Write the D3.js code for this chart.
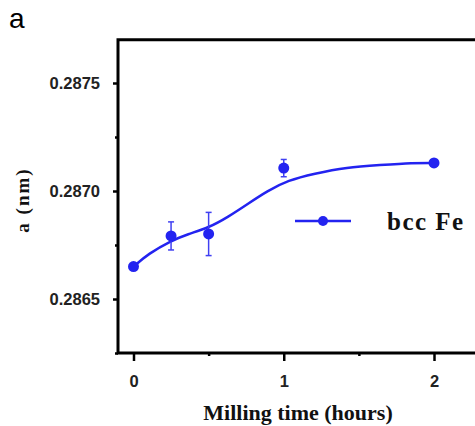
<!DOCTYPE html>
<html>
<head>
<meta charset="utf-8">
<script src="https://cdn.jsdelivr.net/npm/d3@7"></script>
<style>
  body { margin: 0; background: #fff; }
  svg { display: block; }
  .tick text { font-family: "Liberation Sans", Arial, sans-serif; font-weight: bold; fill: #222; }
</style>
</head>
<body>
<div id="chart"></div>
<script>
/* DATA */
const millTime = [0, 0.25, 0.5, 1, 2];
const latticeA = [0.28665, 0.286792, 0.286801, 0.287106, 0.28713];
const latticeErr = [0, 0.000065, 0.0001, 0.00004, 0];

// smooth fit curve
const fitTime = [0, 0.1, 0.25, 0.36, 0.5, 0.63, 0.76, 0.89, 1.03, 1.2, 1.42, 1.64, 1.86, 2];
const fitA = [0.28665, 0.28671, 0.28677, 0.28680, 0.28683, 0.28688, 0.28694, 0.28700, 0.28705, 0.28708, 0.28711, 0.28712, 0.28713, 0.28713];

const yMajor = [0.2865, 0.2870, 0.2875];
const yMinor = [0.28625, 0.28675, 0.28725];
const xMajor = [0, 1, 2];
const xMinor = [0.5, 1.5];

/* CONSTANTS */
const width = 475, height = 426;
const blue = "#2323f0";
const serif = "'Liberation Serif', 'Times New Roman', serif";

const svg = d3.select("#chart").append("svg")
  .attr("width", width)
  .attr("height", height);

const x = d3.scaleLinear().domain([0, 2]).range([133.5, 434]);
const y = d3.scaleLinear().domain([0.2865, 0.2875]).range([299, 83]);

const frameLeft = 118, frameTop = y(0.2877), frameBottom = y(0.28625);

// axes
svg.append("g")
  .attr("transform", `translate(${frameLeft},0)`)
  .call(d3.axisLeft(y).tickValues(yMajor).tickFormat(d3.format(".4f")).tickSize(5).tickPadding(13));
svg.append("g")
  .attr("transform", `translate(${frameLeft},0)`)
  .call(d3.axisLeft(y).tickValues(yMinor).tickFormat("").tickSize(3));

svg.append("g")
  .attr("transform", `translate(0,${frameBottom})`)
  .call(d3.axisBottom(x).tickValues(xMajor).tickFormat(d3.format("d")).tickSize(8).tickPadding(14));
svg.append("g")
  .attr("transform", `translate(0,${frameBottom})`)
  .call(d3.axisBottom(x).tickValues(xMinor).tickFormat("").tickSize(3));

svg.selectAll(".domain").remove();
svg.selectAll(".tick line").attr("stroke", "#000").attr("stroke-width", 2.5);
svg.selectAll(".tick text").style("font-size", "16.5px");

// frame (right side runs off the picture)
svg.append("path")
  .attr("d", `M${width + 5},${frameTop}H${frameLeft}V${frameBottom}H${width + 5}`)
  .attr("fill", "none")
  .attr("stroke", "#000")
  .attr("stroke-width", 3);

// fit curve
const line = d3.line()
  .x(d => x(d[0]))
  .y(d => y(d[1]))
  .curve(d3.curveBasis);

svg.append("path")
  .datum(fitTime.map((t, i) => [t, fitA[i]]))
  .attr("d", line)
  .attr("fill", "none")
  .attr("stroke", blue)
  .attr("stroke-width", 2.5);

// error bars
const pts = millTime.map((t, i) => ({ t: t, a: latticeA[i], e: latticeErr[i] }));
const errG = svg.append("g").selectAll("g")
  .data(pts.filter(d => d.e > 0))
  .join("g")
  .attr("stroke", "#4040f2")
  .attr("stroke-width", 1.5);
errG.append("line")
  .attr("x1", d => x(d.t)).attr("x2", d => x(d.t))
  .attr("y1", d => y(d.a + d.e)).attr("y2", d => y(d.a - d.e));
errG.append("line")
  .attr("x1", d => x(d.t) - 3).attr("x2", d => x(d.t) + 3)
  .attr("y1", d => y(d.a + d.e)).attr("y2", d => y(d.a + d.e));
errG.append("line")
  .attr("x1", d => x(d.t) - 3).attr("x2", d => x(d.t) + 3)
  .attr("y1", d => y(d.a - d.e)).attr("y2", d => y(d.a - d.e));

// markers
svg.append("g").selectAll("circle")
  .data(pts)
  .join("circle")
  .attr("cx", d => x(d.t))
  .attr("cy", d => y(d.a))
  .attr("r", 5.5)
  .attr("fill", blue);

// legend
const legY = 221;
svg.append("line")
  .attr("x1", 295).attr("x2", 351)
  .attr("y1", legY).attr("y2", legY)
  .attr("stroke", blue).attr("stroke-width", 2.5);
svg.append("circle")
  .attr("cx", 323).attr("cy", legY).attr("r", 5)
  .attr("fill", blue);
svg.append("text")
  .attr("x", 387).attr("y", legY + 9)
  .style("font-family", serif)
  .style("font-weight", "bold")
  .style("font-size", "25px")
  .style("letter-spacing", "1.5px")
  .attr("fill", "#111")
  .text("bcc Fe");

// axis titles
svg.append("text")
  .attr("transform", "translate(29,200) rotate(-90)")
  .attr("text-anchor", "middle")
  .style("font-family", serif)
  .style("font-weight", "bold")
  .style("font-size", "19px")
  .style("letter-spacing", "2px")
  .attr("fill", "#111")
  .text("a (nm)");

svg.append("text")
  .attr("x", 298).attr("y", 420)
  .attr("text-anchor", "middle")
  .style("font-family", serif)
  .style("font-weight", "bold")
  .style("font-size", "22px")
  .attr("fill", "#111")
  .text("Milling time (hours)");

// panel letter
svg.append("text")
  .attr("x", 9).attr("y", 28)
  .style("font-family", "'Liberation Sans', Arial, sans-serif")
  .style("font-size", "28px")
  .attr("fill", "#000")
  .text("a");
</script>
</body>
</html>
